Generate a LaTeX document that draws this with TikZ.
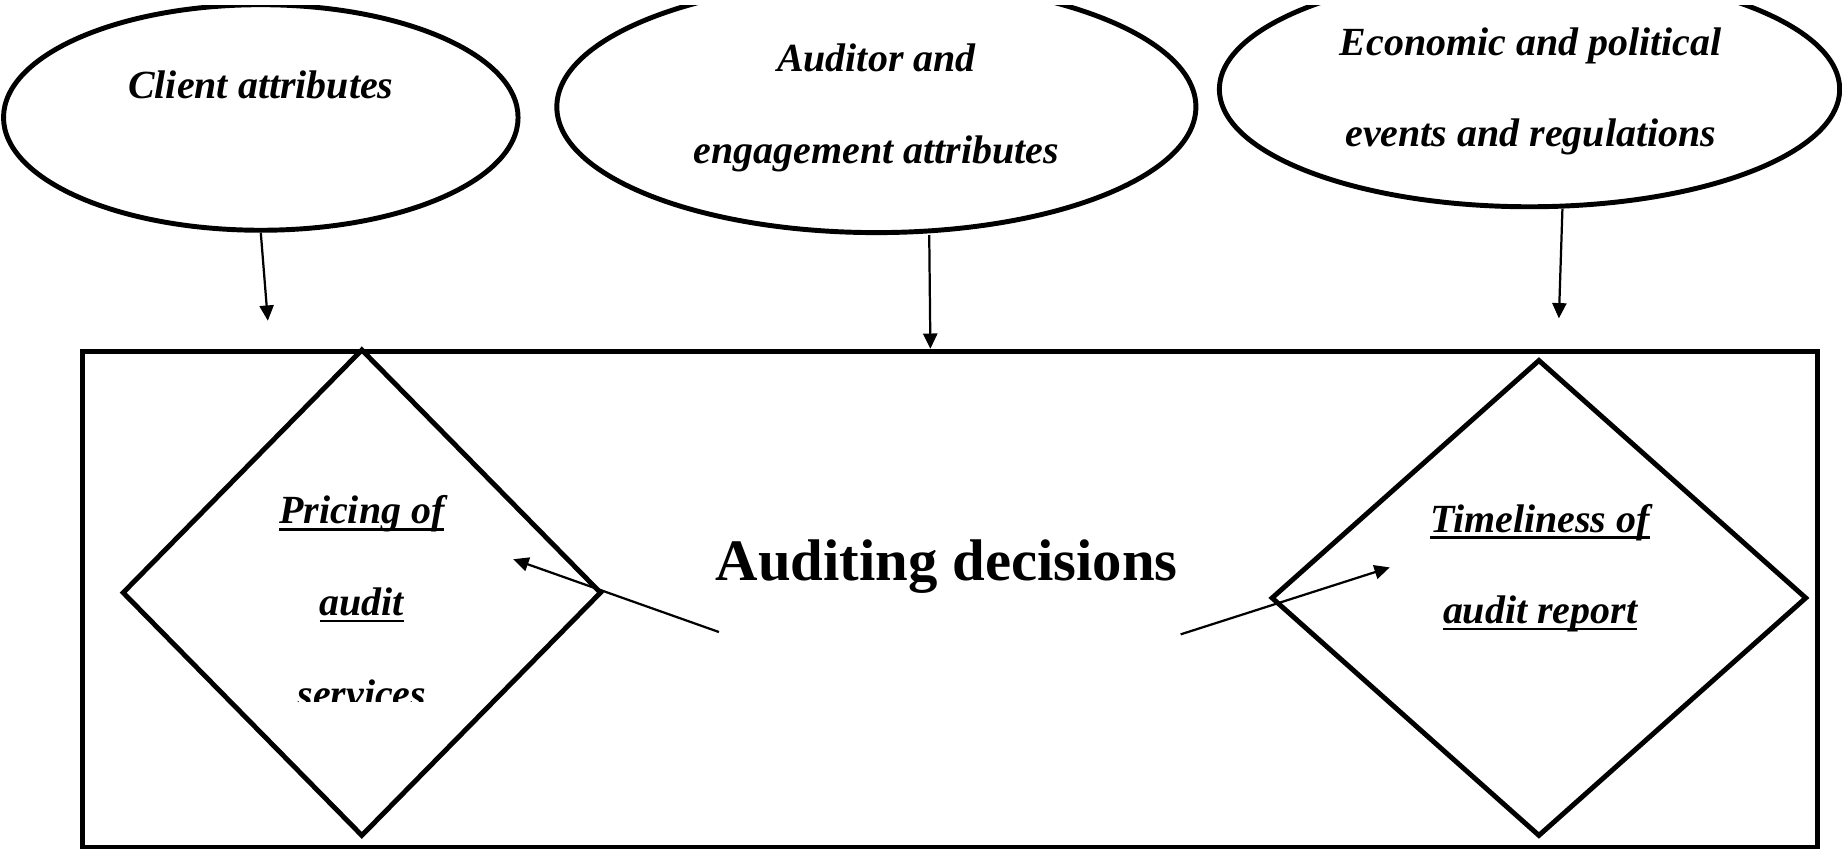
\documentclass[tikz,border=0pt]{standalone}
\usepackage{fontspec}
\setmainfont{Liberation Serif}
\usetikzlibrary{shapes.geometric,arrows.meta}
% underline with a rule a little heavier than TeX's default
\newcommand\ulbox[1]{\setbox0\hbox{#1}\rlap{\vrule width\wd0 height -1.7pt depth 2.8pt}\box0}
\begin{document}
\begin{tikzpicture}[x=0.5pt,y=-0.5pt,
  outline/.style={draw, line width=2.1pt},
  link/.style={line width=0.95pt, -{Triangle[length=6.5pt,width=6pt]}},
  lbl/.style={font=\fontsize{17}{39}\selectfont\bfseries\itshape, align=center, anchor=base, inner sep=0pt},
  oval/.style={outline, ellipse, inner sep=0pt},
  rhomb/.style={outline, diamond, inner sep=0pt}]
\useasboundingbox (0,0) rectangle (1568,724);

% influence factors (tops cut off by the page edge)
\begin{scope}
  \clip (0,5) rectangle (1568,724);
  \node[oval, minimum width=219pt, minimum height=96pt]  (e1) at (222,100) {};
  \node[oval, minimum width=272pt, minimum height=107pt] (e2) at (746,91) {};
  \node[oval, minimum width=264pt, minimum height=100pt] (e3) at (1302,76) {};
\end{scope}
% multi-line labels sit on the baseline of their last line
\node[lbl] (t1) at (222,84) {Client attributes};
\node[lbl] (t2) at (746,139) {Auditor and\\engagement attributes};
\node[lbl] (t3) at (1303,125) {Economic and political\\events and regulations};

% decision frame
\node[outline, minimum width=738.5pt, minimum height=211pt] (box) at (808.5,510) {};
\node[font=\fontsize{25}{30}\selectfont\bfseries, anchor=base, inner sep=0pt] (title) at (806,494) {Auditing decisions};

% the two decisions
\node[rhomb, minimum width=204pt, minimum height=207.5pt] (d1) at (308,504.5) {};
\node[rhomb, minimum width=228pt, minimum height=203pt] (d2) at (1310,509) {};
\begin{scope}
  \clip (104,297) rectangle (512,597);
  \node[lbl] (t4) at (308,602) {\ulbox{Pricing of}\\\ulbox{audit}\\\ulbox{services}};
\end{scope}
\node[lbl] (t5) at (1311,531) {\ulbox{Timeliness of}\\\ulbox{audit report}};

% connectors
\coordinate (a1) at (228,273);
\coordinate (a3) at (1327,271);
\coordinate (p1) at (612,538);
\coordinate (q1) at (437,476);
\coordinate (p2) at (1005,540);
\coordinate (q2) at (1183,483);
\draw[link] (e1.south) -- (a1);
\draw[link] (e2.south -| 791,0) -- (box.north -| 792,0);
\draw[link] ([xshift=14pt]e3.south) -- (a3);
\draw[link] (p1) -- (q1);
\draw[link] (p2) -- (q2);
\end{tikzpicture}
\end{document}
